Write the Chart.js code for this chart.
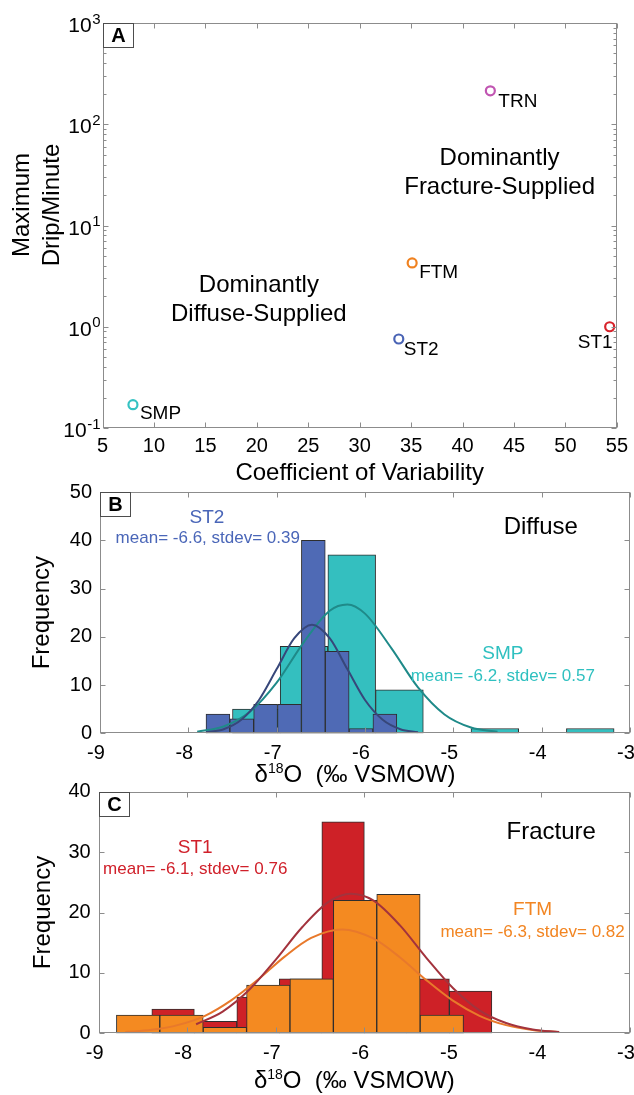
<!DOCTYPE html>
<html>
<head>
<meta charset="utf-8">
<script src="https://cdn.jsdelivr.net/npm/chart.js@4.4.1/dist/chart.umd.min.js"></script>
<style>
  html, body { margin: 0; padding: 0; background: #fff; }
  body { width: 634px; height: 1095px; position: relative; overflow: hidden; }
  canvas { position: absolute; left: 0; }
  #chartA { top: 0; }
  #chartB { top: 470px; }
  #chartC { top: 770px; }
</style>
</head>
<body>
<canvas id="chartA" width="634" height="487"></canvas>
<canvas id="chartB" width="660" height="320"></canvas>
<canvas id="chartC" width="660" height="325"></canvas>
<script>
const FONT = '"Liberation Sans", Arial, Helvetica, sans-serif';

// Panel A - drip rate vs coefficient of variability
const sites = ['SMP', 'ST2', 'FTM', 'TRN', 'ST1'];
const coefVariability = [7.96, 33.8, 35.1, 42.7, 54.3];
const maxDripPerMinute = [0.17, 0.757, 4.27, 214, 1.0];
const logExponents = [-1, 0, 1, 2, 3];

// Panel B - diffuse sites (ST2, SMP) d18O histograms
const st2Edges = [-7.80, -7.53, -7.26, -6.99, -6.72, -6.45, -6.18, -5.91, -5.64];
const st2Counts = [4, 3, 6, 6, 40, 17, 1, 4];
const smpEdges = [-7.50, -6.96, -6.42, -5.88, -5.34, -4.80, -4.26, -3.72, -3.18];
const smpCounts = [5, 18, 37, 9, 0, 1, 0, 1];
const st2FitX = [-7.8, -7.6, -7.4, -7.2, -7.0, -6.8, -6.6, -6.4, -6.2, -6.0, -5.8, -5.6, -5.4];
const st2FitY = [0.2, 0.85, 2.8, 6.9, 13.3, 19.7, 22.5, 19.7, 13.3, 6.9, 2.8, 0.85, 0.2];
const smpFitX = [-7.9, -7.6, -7.3, -7.0, -6.7, -6.4, -6.2, -6.0, -5.7, -5.4, -5.1, -4.8, -4.5];
const smpFitY = [0.35, 1.4, 4.5, 10.5, 18.7, 25.4, 26.7, 24.8, 17.6, 9.5, 3.9, 1.2, 0.3];

// Panel C - fracture sites (ST1, FTM) d18O histograms
const st1Edges = [-8.40, -7.92, -7.44, -6.96, -6.48, -6.00, -5.52, -5.04, -4.56];
const st1Counts = [4, 2, 6, 9, 35, 19, 9, 7];
const ftmEdges = [-8.80, -8.31, -7.82, -7.33, -6.84, -6.35, -5.86, -5.37, -4.88];
const ftmCounts = [3, 3, 1, 8, 9, 22, 23, 3];
const st1FitX = [-7.9, -7.6, -7.3, -7.0, -6.7, -6.4, -6.15, -5.9, -5.6, -5.3, -5.0, -4.7, -4.4, -4.1, -3.8];
const st1FitY = [1.5, 3.6, 7.2, 12.2, 17.6, 21.8, 23.1, 22.0, 17.9, 12.5, 7.5, 3.8, 1.7, 0.63, 0.2];
const ftmFitX = [-8.7, -8.4, -8.1, -7.8, -7.5, -7.2, -6.9, -6.6, -6.25, -5.9, -5.6, -5.3, -5.0, -4.7, -4.4, -4.1, -3.8];
const ftmFitY = [0.2, 0.57, 1.4, 2.9, 5.5, 8.9, 12.7, 15.8, 17.2, 15.7, 12.6, 8.8, 5.4, 2.9, 1.35, 0.55, 0.19];

// colours and label placement
const siteColor = { SMP: '#35c2c2', ST2: '#4a64b5', FTM: '#f08220', TRN: '#c156b2', ST1: '#d7232b' };
const siteLabelOffset = { SMP: [7, 9, 'left'], ST2: [5, 11, 'left'], FTM: [7, 10, 'left'], TRN: [8, 11, 'left'], ST1: [3, 16, 'right'] };

Chart.defaults.font.family = FONT;
Chart.defaults.color = '#000';
Chart.defaults.animation = false;

function histData(edges, counts) {
    return counts.map((c, i) => ({ x: (edges[i] + edges[i + 1]) / 2, y: c }));
}

function curveData(xs, ys) {
    return xs.map((x, i) => ({ x: x, y: ys[i] }));
}

// draws the MATLAB style box, inner ticks, panel letter and text notes
function panelDecor(cfg) {
    return {
        id: 'panelDecor',
        afterDraw(chart) {
            const { ctx, chartArea: a } = chart;
            const xs = chart.scales.x, ys = chart.scales.y;
            const X = v => xs.getPixelForValue(v);
            const Y = v => ys.getPixelForValue(v);
            const L = Math.round(a.left) + 0.5, R = Math.round(a.right) - 0.5;
            const T = Math.round(a.top) + 0.5, B = Math.round(a.bottom) - 0.5;

            ctx.save();
            ctx.strokeStyle = '#8c8c8c';
            ctx.lineWidth = 1;
            ctx.beginPath();
            xs.ticks.forEach(t => {
                const p = Math.round(X(t.value)) + 0.5;
                ctx.moveTo(p, B); ctx.lineTo(p, B - 5);
                ctx.moveTo(p, T); ctx.lineTo(p, T + 5);
            });
            let yMarks = [];
            if (cfg.logY) {
                for (let e = logExponents[0]; e < logExponents[logExponents.length - 1]; e++) {
                    for (let m = 1; m < 10; m++) yMarks.push([m * Math.pow(10, e), m === 1 ? 5 : 3]);
                }
                yMarks.push([ys.max, 5]);
            } else {
                yMarks = ys.ticks.map(t => [t.value, 5]);
            }
            yMarks.forEach(([v, len]) => {
                const p = Math.round(Y(v)) + 0.5;
                ctx.moveTo(L, p); ctx.lineTo(L + len, p);
                ctx.moveTo(R, p); ctx.lineTo(R - len, p);
            });
            ctx.stroke();
            ctx.strokeRect(L, T, R - L, B - T);

            // panel letter
            ctx.fillStyle = '#fff';
            ctx.fillRect(L, T, 30, 24);
            ctx.strokeStyle = '#4d4d4d';
            ctx.strokeRect(L, T, 30, 24);
            ctx.fillStyle = '#000';
            ctx.font = 'bold 20px ' + FONT;
            ctx.textAlign = 'center';
            ctx.textBaseline = 'middle';
            ctx.fillText(cfg.letter, L + 15, T + 13);

            // text notes placed in data coordinates
            (cfg.notes || []).forEach(n => {
                ctx.font = n.size + 'px ' + FONT;
                ctx.fillStyle = n.color || '#000';
                ctx.textAlign = n.align || 'center';
                ctx.fillText(n.text, X(n.x) + (n.dx || 0), Y(n.y) + (n.dy || 0));
            });

            // log axis labels 10^n
            if (cfg.logY) {
                ctx.textAlign = 'left';
                ctx.textBaseline = 'alphabetic';
                ctx.fillStyle = '#000';
                logExponents.forEach(e => {
                    const p = Y(Math.pow(10, e));
                    ctx.font = '15px ' + FONT;
                    const supW = ctx.measureText(String(e)).width;
                    ctx.font = '21px ' + FONT;
                    const baseW = ctx.measureText('10').width;
                    const x0 = a.left - 2.5 - supW - baseW;
                    ctx.fillText('10', x0, p + 9);
                    ctx.font = '15px ' + FONT;
                    ctx.fillText(String(e), x0 + baseW + 0.5, p + 0.5);
                });
            }

            // rotated multi line y title
            if (cfg.yTitle) {
                ctx.font = '24px ' + FONT;
                ctx.textAlign = 'center';
                ctx.textBaseline = 'middle';
                ctx.fillStyle = '#000';
                cfg.yTitle.lines.forEach((line, i) => {
                    ctx.save();
                    ctx.translate(cfg.yTitle.x[i], cfg.yTitle.y);
                    ctx.rotate(-Math.PI / 2);
                    ctx.fillText(line, 0, 0);
                    ctx.restore();
                });
            }

            // x title with superscript
            if (cfg.xTitle) {
                const parts = [['δ', 24, 0], ['18', 14, 9], ['O  (‰ VSMOW)', 24, 0]];
                let total = 0;
                parts.forEach(p => { ctx.font = p[1] + 'px ' + FONT; p.push(ctx.measureText(p[0]).width); total += p[3]; });
                let x = (a.left + a.right) / 2 + cfg.xTitle.dx - total / 2;
                const base = a.bottom + cfg.xTitle.dy + 8;
                ctx.textAlign = 'left';
                ctx.textBaseline = 'alphabetic';
                ctx.fillStyle = '#000';
                parts.forEach(p => {
                    ctx.font = p[1] + 'px ' + FONT;
                    ctx.fillText(p[0], x, base - p[2]);
                    x += p[3];
                });
            }
            ctx.restore();
        }
    };
}

// ---------- Panel A ----------
const notesA = [
    { text: 'Dominantly', x: 43.6, y: 46.4, size: 24 },
    { text: 'Fracture-Supplied', x: 43.6, y: 24.0, size: 24 },
    { text: 'Dominantly', x: 20.2, y: 2.58, size: 24 },
    { text: 'Diffuse-Supplied', x: 20.2, y: 1.34, size: 24 }
].concat(sites.map((s, i) => ({
    text: s, x: coefVariability[i], y: maxDripPerMinute[i], size: 19,
    dx: siteLabelOffset[s][0], dy: siteLabelOffset[s][1], align: siteLabelOffset[s][2]
})));

new Chart(document.getElementById('chartA'), {
    type: 'scatter',
    data: {
        datasets: [{
            data: coefVariability.map((x, i) => ({ x: x, y: maxDripPerMinute[i] })),
            pointRadius: 4.5,
            pointBorderWidth: 2.2,
            pointBackgroundColor: 'rgba(255,255,255,0)',
            pointBorderColor: sites.map(s => siteColor[s])
        }]
    },
    options: {
        responsive: false,
        events: [],
        layout: { autoPadding: false, padding: { left: 0, right: 17, top: 23, bottom: 0 } },
        plugins: { legend: { display: false }, tooltip: { enabled: false } },
        scales: {
            x: {
                type: 'linear', min: 5, max: 55,
                grid: { display: false, drawTicks: false },
                border: { display: false },
                ticks: { stepSize: 5, padding: 6, font: { size: 20 } },
                title: { display: true, text: 'Coefficient of Variability', font: { size: 24, lineHeight: 1 }, padding: { top: 0, bottom: 2 } },
                afterFit: s => { s.height = 59; }
            },
            y: {
                type: 'logarithmic', min: 0.1, max: 1000,
                grid: { display: false, drawTicks: false },
                border: { display: false },
                ticks: { display: false },
                afterFit: s => { s.width = 102.5; }
            }
        }
    },
    plugins: [panelDecor({
        letter: 'A', logY: true, notes: notesA,
        yTitle: { lines: ['Maximum', 'Drip/Minute'], x: [22, 52], y: 205 }
    })]
});

// ---------- Panels B and C ----------
function histChart(id, o) {
    return new Chart(document.getElementById(id), {
        type: 'bar',
        data: {
            datasets: [
                { type: 'line', data: o.fitFront, borderColor: o.curveFront, borderWidth: 2, pointRadius: 0, cubicInterpolationMode: 'monotone', fill: false, xAxisID: 'x', order: 0 },
                { type: 'line', data: o.fitBack, borderColor: o.curveBack, borderWidth: 2, pointRadius: 0, cubicInterpolationMode: 'monotone', fill: false, xAxisID: 'x', order: 0 },
                { type: 'bar', data: o.front, xAxisID: 'x', backgroundColor: o.colorFront, borderColor: '#2e2e2e', borderWidth: 1, borderSkipped: false, barPercentage: 1, categoryPercentage: 1, grouped: false, order: 1 },
                { type: 'bar', data: o.back, xAxisID: 'x2', backgroundColor: o.colorBack, borderColor: '#2e2e2e', borderWidth: 1, borderSkipped: false, barPercentage: 1, categoryPercentage: 1, grouped: false, order: 2 }
            ]
        },
        options: {
            responsive: false,
            events: [],
            layout: { autoPadding: false, padding: { left: 0, right: 30, top: o.top, bottom: 0 } },
            plugins: { legend: { display: false }, tooltip: { enabled: false } },
            scales: {
                x: {
                    type: 'linear', min: -9, max: -3, offset: false,
                    grid: { display: false, drawTicks: false, offset: false },
                    border: { display: false },
                    ticks: { stepSize: 1, padding: 8, labelOffset: -4, font: { size: 20 } },
                    afterFit: s => { s.height = o.xHeight; }
                },
                x2: {
                    type: 'linear', min: -9, max: -3, offset: false, display: false,
                    grid: { offset: false },
                    ticks: { stepSize: 1 }
                },
                y: {
                    type: 'linear', min: 0, max: o.yMax,
                    grid: { display: false, drawTicks: false },
                    border: { display: false },
                    ticks: { stepSize: 10, padding: 8, font: { size: 20 } },
                    title: { display: true, text: 'Frequency', font: { size: 24, lineHeight: 1 }, padding: { top: o.yTitlePad, bottom: 0 } },
                    afterFit: s => { s.width = o.yWidth; }
                }
            }
        },
        plugins: [panelDecor({ letter: o.letter, notes: o.notes, xTitle: { dx: -10, dy: o.xTitleDy } })]
    });
}

histChart('chartB', {
    letter: 'B', top: 22, yMax: 50, xHeight: 56.7, yWidth: 100, yTitlePad: 30, xTitleDy: 41,
    front: histData(st2Edges, st2Counts), back: histData(smpEdges, smpCounts),
    fitFront: curveData(st2FitX, st2FitY), fitBack: curveData(smpFitX, smpFitY),
    colorFront: '#4f6ab5', colorBack: '#34bfbf', curveFront: '#37477a', curveBack: '#1f8a89',
    notes: [
        { text: 'ST2', x: -7.79, y: 44.7, size: 19, color: '#4a66b8' },
        { text: 'mean= -6.6, stdev= 0.39', x: -7.78, y: 40.3, size: 17, color: '#4a66b8' },
        { text: 'Diffuse', x: -4.01, y: 42.6, size: 24 },
        { text: 'SMP', x: -4.44, y: 16.45, size: 19, color: '#2fc0c0' },
        { text: 'mean= -6.2, stdev= 0.57', x: -4.44, y: 11.9, size: 17, color: '#2fc0c0' }
    ]
});

histChart('chartC', {
    letter: 'C', top: 21.7, yMax: 40, xHeight: 61.7, yWidth: 98.7, yTitlePad: 31, xTitleDy: 47,
    front: histData(ftmEdges, ftmCounts), back: histData(st1Edges, st1Counts),
    fitFront: curveData(st1FitX, st1FitY), fitBack: curveData(ftmFitX, ftmFitY),
    colorFront: '#f48a21', colorBack: '#ce2127', curveFront: '#a3333d', curveBack: '#e8792b',
    notes: [
        { text: 'ST1', x: -7.91, y: 30.7, size: 19, color: '#d0202a' },
        { text: 'mean= -6.1, stdev= 0.76', x: -7.91, y: 27.2, size: 17, color: '#d0202a' },
        { text: 'Fracture', x: -3.89, y: 33.2, size: 24 },
        { text: 'FTM', x: -4.10, y: 20.4, size: 19, color: '#f28522' },
        { text: 'mean= -6.3, stdev= 0.82', x: -4.10, y: 16.8, size: 17, color: '#f28522' }
    ]
});
</script>
</body>
</html>
